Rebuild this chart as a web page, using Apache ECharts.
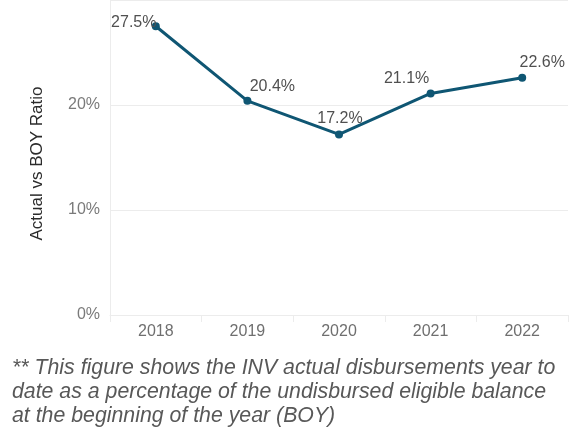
<!DOCTYPE html>
<html>
<head>
<meta charset="utf-8">
<style>
  html, body { margin: 0; padding: 0; background: #fff; }
  #chart { width: 584px; height: 432px; }
</style>
<script src="https://cdn.jsdelivr.net/npm/echarts@6/dist/echarts.min.js"></script>
</head>
<body>
<div id="chart"></div>
<script>
// Yearly ratio of actual disbursements to the beginning-of-year balance (%)
const years = ['2018', '2019', '2020', '2021', '2022'];
const ratios = [27.5, 20.4, 17.2, 21.1, 22.6];
const yTicks = [0, 10, 20];
// Per-point nudges that keep each value label clear of the line
const labelOffsets = [[-22, 13], [25, 3], [1, 1], [-24, 2], [20, 2]];

const footnote = [
  '** This figure shows the INV actual disbursements year to',
  'date as a percentage of the undisbursed eligible balance',
  'at the beginning of the year (BOY)'
].join('\n');

const chart = echarts.init(document.getElementById('chart'));

chart.setOption({
  animation: false,
  backgroundColor: '#ffffff',
  grid: { left: 110, right: 16, top: -1, bottom: 117 },
  xAxis: {
    type: 'category',
    data: years,
    boundaryGap: true,
    axisLine: { show: true, lineStyle: { color: '#ececec', width: 1 } },
    axisTick: { show: true, length: 7, lineStyle: { color: '#ececec' } },
    axisLabel: {
      color: '#6f6f6f', fontSize: 16, margin: 9,
      fontFamily: 'Liberation Sans, Arial, sans-serif'
    }
  },
  yAxis: {
    type: 'value',
    min: 0,
    max: 30,
    interval: 10,
    name: 'Actual vs BOY Ratio',
    nameLocation: 'middle',
    nameGap: 64,
    nameRotate: 90,
    nameTextStyle: {
      color: '#2b2b2b', fontSize: 17,
      fontFamily: 'Liberation Sans, Arial, sans-serif',
      padding: [0, 12, 0, 0]
    },
    axisLine: { show: true, lineStyle: { color: '#ececec', width: 1 } },
    axisTick: { show: false },
    splitLine: { show: true, lineStyle: { color: '#ececec', width: 1 } },
    axisLabel: {
      color: '#7a7a7a', fontSize: 16, margin: 10,
      fontFamily: 'Liberation Sans, Arial, sans-serif',
      formatter: v => (yTicks.indexOf(v) >= 0 ? v + '%' : '')
    }
  },
  series: [{
    type: 'line',
    data: ratios.map((v, i) => ({
      value: v,
      label: { offset: labelOffsets[i] }
    })),
    symbol: 'circle',
    symbolSize: 8,
    lineStyle: { color: '#0f5673', width: 3 },
    itemStyle: { color: '#0f5673' },
    label: {
      show: true,
      position: 'top',
      distance: 5,
      color: '#505050',
      fontSize: 16,
      fontFamily: 'Liberation Sans, Arial, sans-serif',
      formatter: p => p.value.toFixed(1) + '%'
    }
  }],
  graphic: [{
    type: 'text',
    left: 12,
    top: 356,
    style: {
      text: footnote,
      fill: '#585858',
      font: 'italic 21.3px "Liberation Sans", Arial, sans-serif',
      lineHeight: 24
    }
  }]
});
</script>
</body>
</html>
